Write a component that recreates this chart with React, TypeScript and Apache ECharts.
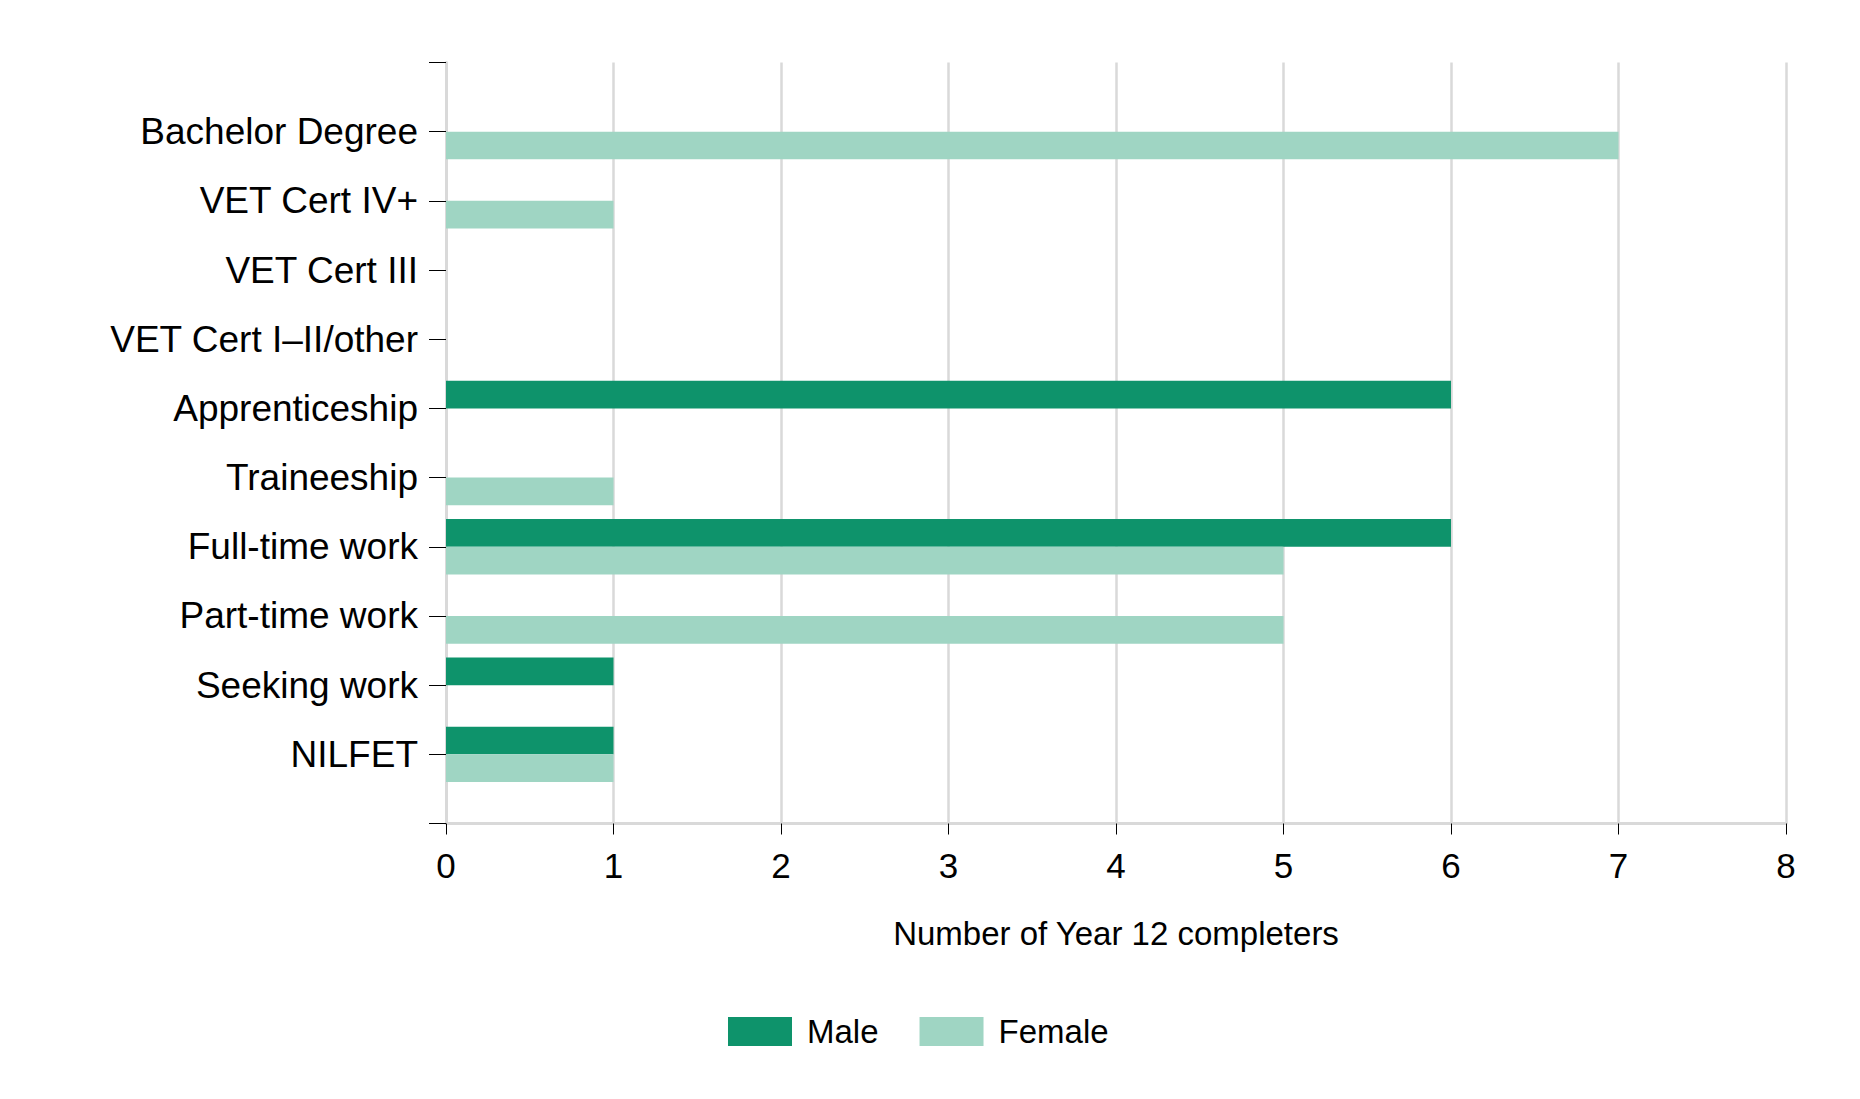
import React, { useEffect, useRef } from "react";
import * as echarts from "echarts";

const categories = [
  "Bachelor Degree",
  "VET Cert IV+",
  "VET Cert III",
  "VET Cert I–II/other",
  "Apprenticeship",
  "Traineeship",
  "Full-time work",
  "Part-time work",
  "Seeking work",
  "NILFET",
];
const maleValues = [0, 0, 0, 0, 6, 0, 6, 0, 1, 1];
const femaleValues = [7, 1, 0, 0, 0, 1, 5, 5, 0, 1];
const xTicks = [0, 1, 2, 3, 4, 5, 6, 7, 8];
const seriesNames = ["Male", "Female"];
const xAxisTitle = "Number of Year 12 completers";

const FONT = "'Liberation Sans', Arial, sans-serif";
const GRID_GRAY = "#d9d9d9";

export default function App() {
  const ref = useRef<HTMLDivElement>(null);
  useEffect(() => {
    if (!ref.current) return;
    const chart = echarts.init(ref.current, undefined, { renderer: "svg" });
    const yData = ["", ...categories, ""];
    const pad = (arr: number[]) => [null, ...arr, null];
    chart.setOption({
      animation: false,
      backgroundColor: "#ffffff",
      textStyle: { fontFamily: FONT },
      grid: { left: 446, right: 74, top: 62.5, bottom: 275.5, containLabel: false },
      legend: {
        data: seriesNames,
        left: 723,
        top: 1010,
        itemWidth: 64,
        itemHeight: 29,
        itemGap: 41,
        icon: "rect",
        textStyle: { fontFamily: FONT, fontSize: 33, color: "#000", padding: [0, 0, 0, 10] },
        selectedMode: false,
      },
      xAxis: {
        type: "value",
        min: xTicks[0],
        max: xTicks[xTicks.length - 1],
        interval: 1,
        name: xAxisTitle,
        nameLocation: "middle",
        nameGap: 93,
        nameTextStyle: { fontFamily: FONT, fontSize: 33, color: "#000" },
        axisLine: { show: true, lineStyle: { color: GRID_GRAY, width: 3 }, z: 5 },
        axisTick: { show: true, length: 11, lineStyle: { color: "#000", width: 1 } },
        axisLabel: { fontFamily: FONT, fontSize: 35, color: "#000", margin: 24 },
        splitLine: { show: true, lineStyle: { color: GRID_GRAY, width: 2.5 } },
      },
      yAxis: {
        type: "category",
        data: yData,
        inverse: true,
        boundaryGap: false,
        axisLine: { show: true, lineStyle: { color: GRID_GRAY, width: 3 } },
        axisTick: { show: true, length: 17, lineStyle: { color: "#000", width: 1 } },
        axisLabel: { fontFamily: FONT, fontSize: 37, color: "#000", margin: 28, interval: 0 },
        splitLine: { show: false },
      },
      series: [
        {
          name: seriesNames[0],
          type: "bar",
          data: pad(maleValues),
          barWidth: "40%",
          barGap: "0%",
          itemStyle: { color: "#0e936b" },
        },
        {
          name: seriesNames[1],
          type: "bar",
          data: pad(femaleValues),
          barWidth: "40%",
          barGap: "0%",
          itemStyle: { color: "#9fd5c3" },
        },
      ],
    });
    return () => chart.dispose();
  }, []);
  return (
    <div
      ref={ref}
      style={{ position: "fixed", left: 0, top: 0, width: 1860, height: 1099, background: "#fff" }}
    />
  );
}
